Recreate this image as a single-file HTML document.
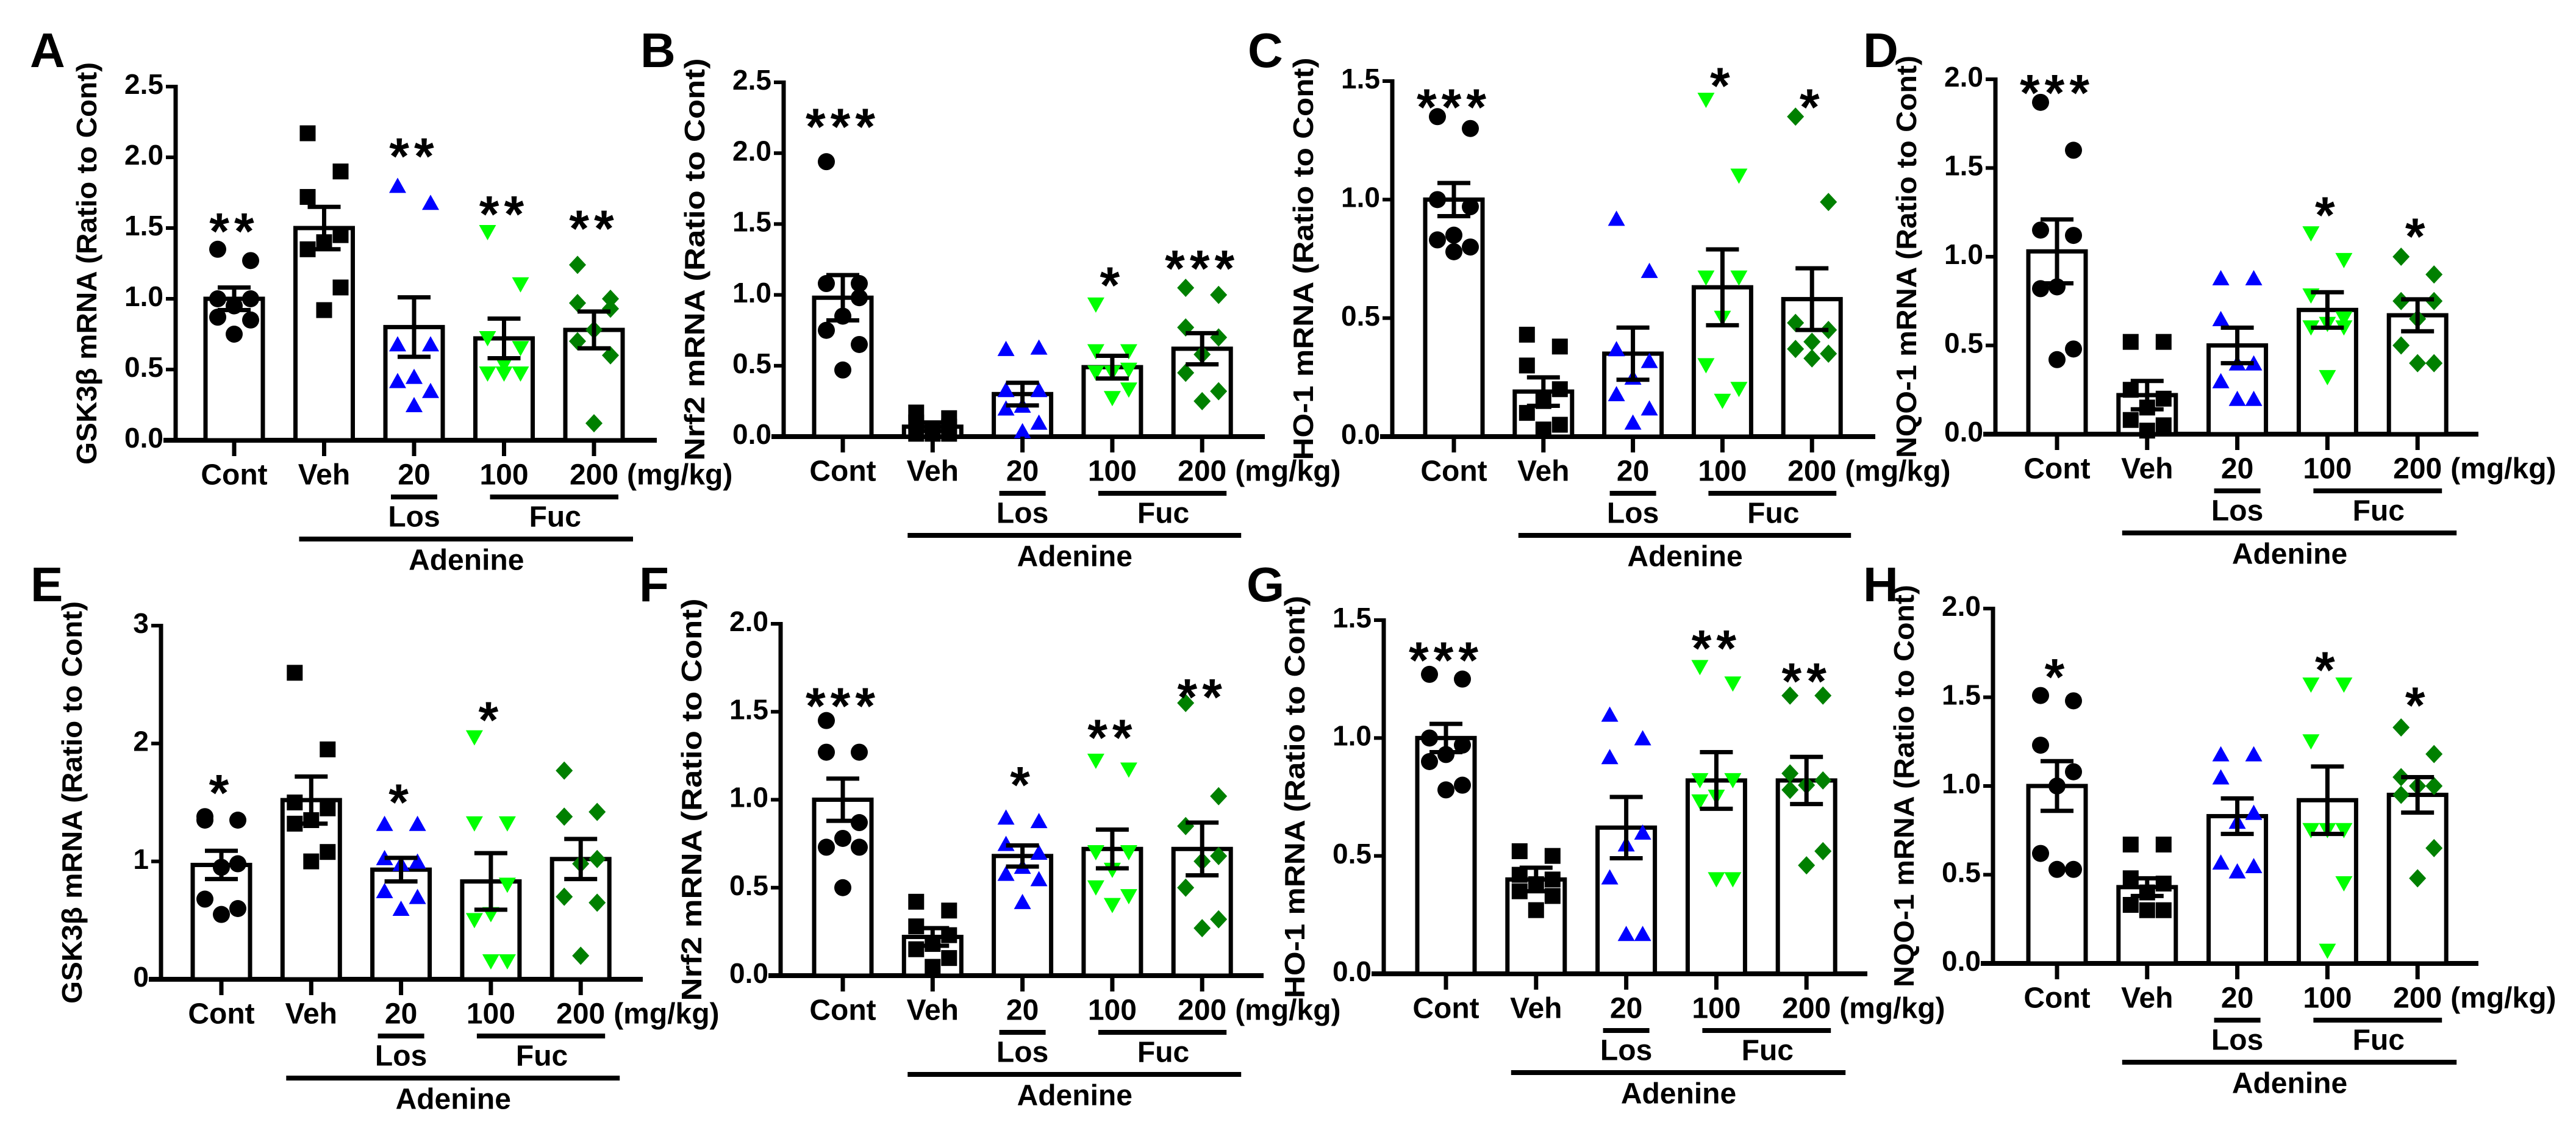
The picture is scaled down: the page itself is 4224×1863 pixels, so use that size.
<!DOCTYPE html>
<html><head><meta charset="utf-8"><style>
html,body{margin:0;padding:0;background:#fff}
svg{display:block}
text{font-family:"Liberation Sans",sans-serif;font-weight:bold;fill:#000}
</style></head><body>
<svg id="fig" width="4224" height="1863" viewBox="0 0 4224 1863" xmlns="http://www.w3.org/2000/svg"></svg>
<script>
const groups=['Cont','Veh','20','100','200'];
const aMeans=[1.0,1.5,0.8,0.72,0.78];
const aSems=[0.08,0.15,0.21,0.14,0.13];
const aPoints=[[1.35,1.27,1.0,1.0,0.95,0.87,0.85,0.75],[2.17,1.9,1.72,1.45,1.4,1.35,1.08,0.92],[1.8,1.68,0.68,0.68,0.45,0.42,0.35,0.25],[1.47,1.1,0.72,0.65,0.53,0.47,0.47,0.47],[1.24,1.0,0.97,0.93,0.78,0.7,0.6,0.12]];
const aStars=['**','','**','**','**'];
const aStarY=[1.56,0,2.09,1.68,1.58];
const bMeans=[0.98,0.07,0.3,0.49,0.62];
const bSems=[0.16,0.03,0.08,0.08,0.11];
const bPoints=[[1.94,1.08,1.08,0.98,0.85,0.75,0.65,0.47],[0.17,0.13,0.1,0.07,0.05,0.02,0.02,0.02],[0.62,0.63,0.33,0.33,0.22,0.2,0.1,0.04],[0.93,0.6,0.6,0.47,0.45,0.45,0.33,0.27],[1.05,1.0,0.77,0.7,0.58,0.45,0.32,0.25]];
const bStars=['***','','','*','***'];
const bStarY=[2.27,0,0,1.15,1.27];
const cMeans=[1.0,0.19,0.35,0.63,0.58];
const cSems=[0.07,0.06,0.11,0.16,0.13];
const cPoints=[[1.35,1.3,1.0,0.97,0.85,0.83,0.8,0.78],[0.43,0.38,0.3,0.2,0.15,0.1,0.05,0.03],[0.92,0.7,0.37,0.32,0.25,0.18,0.12,0.06],[1.42,1.1,0.67,0.67,0.5,0.3,0.2,0.15],[1.35,0.99,0.48,0.45,0.4,0.37,0.35,0.33]];
const cStars=['***','','','*','*'];
const cStarY=[1.44,0,0,1.53,1.44];
const dMeans=[1.03,0.22,0.5,0.7,0.67];
const dSems=[0.18,0.08,0.1,0.1,0.09];
const dPoints=[[1.87,1.6,1.15,1.12,0.83,0.82,0.48,0.42],[0.52,0.52,0.25,0.2,0.15,0.08,0.05,0.02],[0.88,0.88,0.65,0.4,0.4,0.3,0.2,0.2],[1.13,0.98,0.78,0.65,0.62,0.6,0.6,0.32],[1.0,0.9,0.75,0.75,0.65,0.5,0.4,0.4]];
const dStars=['***','','','*','*'];
const dStarY=[1.99,0,0,1.3,1.18];
const eMeans=[0.97,1.52,0.93,0.83,1.02];
const eSems=[0.12,0.2,0.1,0.24,0.17];
const ePoints=[[1.38,1.35,1.35,0.98,0.95,0.68,0.6,0.55],[2.6,1.95,1.5,1.45,1.35,1.32,1.08,1.0],[1.32,1.32,1.03,1.0,0.98,0.75,0.7,0.6],[2.05,1.32,1.32,0.8,0.55,0.5,0.15,0.15],[1.77,1.42,1.38,1.02,0.98,0.7,0.65,0.2]];
const eStars=['*','','*','*',''];
const eStarY=[1.68,0,1.6,2.3,0];
const fMeans=[1.0,0.22,0.68,0.72,0.72];
const fSems=[0.12,0.05,0.06,0.11,0.15];
const fPoints=[[1.45,1.27,1.27,0.87,0.78,0.73,0.73,0.5],[0.42,0.37,0.28,0.23,0.18,0.15,0.1,0.05],[0.9,0.88,0.75,0.7,0.62,0.58,0.55,0.42],[1.22,1.17,0.7,0.7,0.6,0.5,0.45,0.4],[1.55,1.02,0.85,0.68,0.65,0.5,0.32,0.27]];
const fStars=['***','','*','**','**'];
const fStarY=[1.6,0,1.15,1.42,1.65];
const gMeans=[1.0,0.4,0.62,0.82,0.82];
const gSems=[0.06,0.05,0.13,0.12,0.1];
const gPoints=[[1.27,1.25,1.0,0.97,0.93,0.9,0.8,0.78],[0.52,0.5,0.42,0.4,0.38,0.35,0.33,0.27],[1.1,1.0,0.92,0.6,0.55,0.41,0.17,0.17],[1.3,1.23,0.82,0.82,0.75,0.73,0.4,0.4],[1.18,1.18,0.85,0.82,0.8,0.78,0.52,0.46]];
const gStars=['***','','','**','**'];
const gStarY=[1.38,0,0,1.43,1.29];
const hMeans=[1.0,0.43,0.83,0.92,0.95];
const hSems=[0.14,0.05,0.1,0.19,0.1];
const hPoints=[[1.51,1.48,1.23,1.08,1.0,0.62,0.53,0.53],[0.67,0.67,0.48,0.45,0.4,0.33,0.3,0.3],[1.18,1.18,1.05,0.85,0.8,0.57,0.55,0.52],[1.57,1.57,1.25,0.75,0.75,0.75,0.45,0.07],[1.33,1.18,1.05,1.0,1.0,0.95,0.65,0.48]];
const hStars=['*','','','*','*'];
const hStarY=[1.68,0,0,1.72,1.52];
const aTicks=['0.0','0.5','1.0','1.5','2.0','2.5'];
const cTicks=['0.0','0.5','1.0','1.5'];
const dTicks=['0.0','0.5','1.0','1.5','2.0'];
const eTicks=['0','1','2','3'];

const NS='http://www.w3.org/2000/svg';
const svg=document.getElementById('fig');
function mk(tag,attrs,parent,txt){const e=document.createElementNS(NS,tag);for(const k in attrs)e.setAttribute(k,attrs[k]);if(txt!==undefined)e.textContent=txt;(parent||svg).appendChild(e);return e;}
const colors=['#000','#000','#0000ff','#00ff00','#008000'];
const shapes=['circle','square','up','down','diamond'];
const jit=[-27,27,-27,27,0,-27,27,0];

function panel(P){
  const g=mk('g',{});
  
  
  const ys=v=>P.y0-(v/P.ymax)*(P.y0-P.yTop);
  const xs=i=>P.x0+i*P.step;
  const lt=mk('text',{x:P.lx,y:P.ly,'font-size':80},g,P.letter);
  
  
  const tt=mk('text',{x:0,y:0,'font-size':46,'text-anchor':'middle','dominant-baseline':'middle',textLength:660,lengthAdjust:'spacingAndGlyphs',transform:`translate(${P.ax-142},${(P.y0+P.yTop)/2}) rotate(-90)`},g,P.title);
  
  
  const ya=mk('line',{x1:P.ax,y1:P.yTop-3,x2:P.ax,y2:P.y0+3,stroke:'#000','stroke-width':7},g);
  
  
  const n=P.ticks.length;
  P.ticks.forEach((t,i)=>{
    const v=P.ymax*i/(n-1), y=ys(v);
    mk('line',{x1:P.ax-16,y1:y,x2:P.ax,y2:y,stroke:'#000','stroke-width':6},g);
    const tl=mk('text',{x:P.ax-20,y:y,'font-size':46,'text-anchor':'end','dominant-baseline':'middle'},g,t);
    
    
  });
  const xa=mk('line',{x1:P.ax-20,y1:P.y0,x2:P.xEnd,y2:P.y0,stroke:'#000','stroke-width':8},g);
  
  
  for(let i=0;i<5;i++){
    const cx=xs(i);
    const bar=mk('rect',{x:cx-47,y:ys(P.means[i]),width:94,height:P.y0-ys(P.means[i]),fill:'#fff',stroke:'#000','stroke-width':7},g);
    
    
    P.points[i].forEach((v,j)=>{
      const px=cx+jit[j], py=ys(v), c=colors[i];let m;
      if(shapes[i]==='circle')m=mk('circle',{cx:px,cy:py,r:14,fill:c},g);
      else if(shapes[i]==='square')m=mk('rect',{x:px-13,y:py-13,width:26,height:26,fill:c},g);
      else if(shapes[i]==='up')m=mk('polygon',{points:`${px-14},${py+12} ${px+14},${py+12} ${px},${py-13}`,fill:c},g);
      else if(shapes[i]==='down')m=mk('polygon',{points:`${px-14},${py-12} ${px+14},${py-12} ${px},${py+13}`,fill:c},g);
      else m=mk('polygon',{points:`${px},${py-15} ${px+14},${py} ${px},${py+15} ${px-14},${py}`,fill:c},g);
      
      
    });
    const hi=ys(P.means[i]+P.sems[i]), lo=ys(P.means[i]-P.sems[i]);
    const eb=mk('path',{d:`M${cx},${hi}V${lo}M${cx-27},${hi}H${cx+27}M${cx-27},${lo}H${cx+27}`,stroke:'#000','stroke-width':7,fill:'none'},g);
    
    
    mk('line',{x1:cx,y1:P.y0,x2:cx,y2:P.y0+26,stroke:'#000','stroke-width':7},g);
    if(P.stars[i]){
      const st=mk('text',{x:cx,y:ys(P.starY[i])+48,'font-size':84,'text-anchor':'middle','letter-spacing':8},g,P.stars[i]);
      
      
    }
    const xl=mk('text',{x:cx,y:P.y0+60,'font-size':48,'text-anchor':'middle','dominant-baseline':'middle'},g,groups[i]);
    
    
  }
  const mg=mk('text',{x:xs(4)+54,y:P.y0+60,'font-size':48,'dominant-baseline':'middle'},g,'(mg/kg)');
  
  
  mk('line',{x1:xs(2)-38,y1:P.y0+93,x2:xs(2)+38,y2:P.y0+93,stroke:'#000','stroke-width':8},g);
  mk('line',{x1:xs(3)-23,y1:P.y0+93,x2:xs(4)+40,y2:P.y0+93,stroke:'#000','stroke-width':8},g);
  mk('line',{x1:xs(1)-41,y1:P.y0+162,x2:xs(4)+64,y2:P.y0+162,stroke:'#000','stroke-width':8},g);
  const l1=mk('text',{x:xs(2),y:P.y0+129,'font-size':48,'text-anchor':'middle','dominant-baseline':'middle'},g,'Los');
  
  
  const l2=mk('text',{x:(xs(3)+xs(4))/2+10,y:P.y0+129,'font-size':48,'text-anchor':'middle','dominant-baseline':'middle'},g,'Fuc');
  
  
  const l3=mk('text',{x:(xs(1)+xs(4))/2+12,y:P.y0+200,'font-size':48,'text-anchor':'middle','dominant-baseline':'middle'},g,'Adenine');
  
  
}
panel({letter:'A',lx:49,ly:110,title:'GSK3β mRNA (Ratio to Cont)',ax:288,y0:722,yTop:142,ymax:2.5,ticks:aTicks,x0:384,step:147.5,xEnd:1077,means:aMeans,sems:aSems,points:aPoints,stars:aStars,starY:aStarY});
panel({letter:'B',lx:1050,ly:110,title:'Nrf2 mRNA (Ratio to Cont)',ax:1285,y0:716,yTop:135,ymax:2.5,ticks:aTicks,x0:1382,step:147.3,xEnd:2074,means:bMeans,sems:bSems,points:bPoints,stars:bStars,starY:bStarY});
panel({letter:'C',lx:2046,ly:110,title:'HO-1 mRNA (Ratio to Cont)',ax:2283,y0:716,yTop:133,ymax:1.5,ticks:cTicks,x0:2384,step:146.8,xEnd:3075,means:cMeans,sems:cSems,points:cPoints,stars:cStars,starY:cStarY});
panel({letter:'D',lx:3055,ly:110,title:'NQO-1 mRNA (Ratio to Cont)',ax:3272,y0:712,yTop:130,ymax:2.0,ticks:dTicks,x0:3373,step:147.8,xEnd:4064,means:dMeans,sems:dSems,points:dPoints,stars:dStars,starY:dStarY});
panel({letter:'E',lx:50,ly:986,title:'GSK3β mRNA (Ratio to Cont)',ax:264,y0:1606,yTop:1026,ymax:3,ticks:eTicks,x0:363,step:147.3,xEnd:1054,means:eMeans,sems:eSems,points:ePoints,stars:eStars,starY:eStarY});
panel({letter:'F',lx:1048,ly:986,title:'Nrf2 mRNA (Ratio to Cont)',ax:1280,y0:1600,yTop:1023,ymax:2.0,ticks:dTicks,x0:1382,step:147.3,xEnd:2072,means:fMeans,sems:fSems,points:fPoints,stars:fStars,starY:fStarY});
panel({letter:'G',lx:2044,ly:986,title:'HO-1 mRNA (Ratio to Cont)',ax:2269,y0:1597,yTop:1017,ymax:1.5,ticks:cTicks,x0:2371,step:147.8,xEnd:3062,means:gMeans,sems:gSems,points:gPoints,stars:gStars,starY:gStarY});
panel({letter:'H',lx:3055,ly:986,title:'NQO-1 mRNA (Ratio to Cont)',ax:3268,y0:1580,yTop:998,ymax:2.0,ticks:dTicks,x0:3373,step:147.8,xEnd:4064,means:hMeans,sems:hSems,points:hPoints,stars:hStars,starY:hStarY});
</script>
</body></html>
